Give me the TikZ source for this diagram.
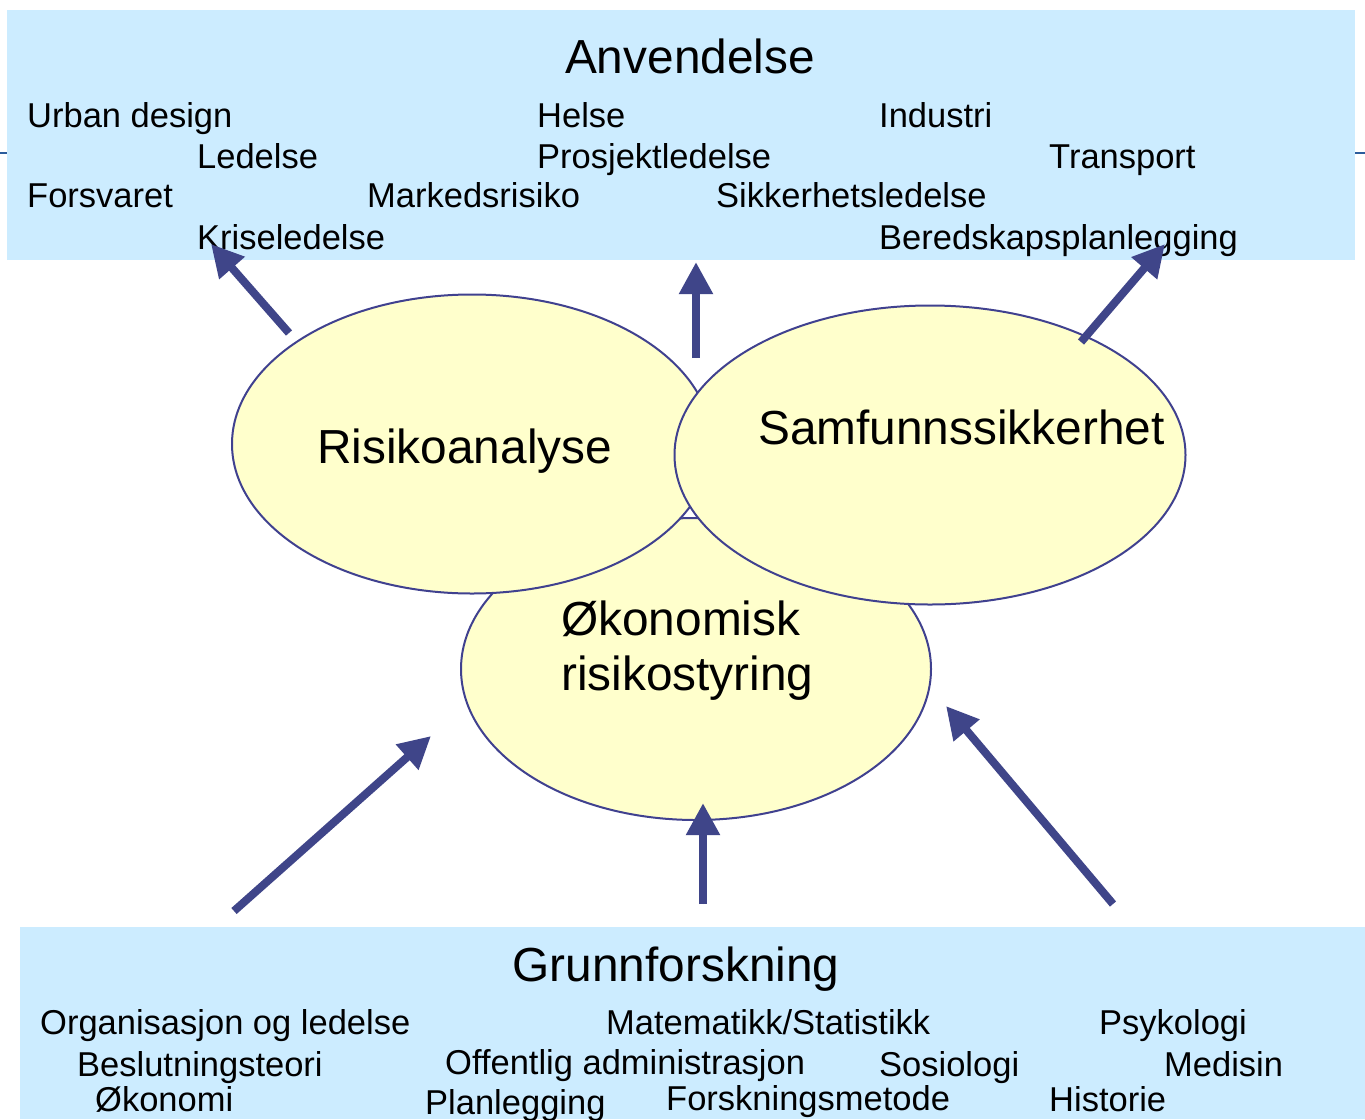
\documentclass[tikz,border=0pt]{standalone}
\usepackage{fontspec}
\setmainfont{Liberation Sans}
\usetikzlibrary{arrows.meta,shapes.geometric}
\definecolor{boxblue}{HTML}{CCECFF}
\definecolor{ellfill}{HTML}{FFFFCC}
\definecolor{ellline}{HTML}{40418F}
\definecolor{arrowblue}{HTML}{3F4589}
\definecolor{rulecol}{HTML}{2B5C9C}
\tikzset{
  sm/.style={anchor=base west, inner sep=0pt, font=\fontsize{34.5}{40}\selectfont},
  bg/.style={anchor=base west, inner sep=0pt, font=\fontsize{47.8}{54}\selectfont},
  ell/.style={ellipse, draw=ellline, fill=ellfill, line width=2pt, inner sep=0pt},
  arr/.style={draw=arrowblue, line width=8pt, -{Triangle[length=32pt,width=32pt]}, fill=arrowblue},
  areabox/.style={fill=boxblue, draw=none, inner sep=0pt, anchor=north west}
}
\begin{document}
\begin{tikzpicture}[x=1pt,y=-1pt]
\useasboundingbox (0,0) rectangle (1365,1119);
\fill[white] (0,0) rectangle (1365,1119);
% thin rule behind the top panel
\draw[rulecol, line width=2.5pt] (0,153) -- (1365,153);
% panels
\node[areabox, minimum width=1348pt, minimum height=250pt] (top) at (7,10) {};
\node[areabox, minimum width=1345pt, minimum height=192pt] (bot) at (20,927) {};
% top texts
\node[bg, anchor=base] (anv) at (690,73) {Anvendelse};
\node[sm] (t1) at (27,127) {Urban design};
\node[sm] (t2) at (537,127) {Helse};
\node[sm] (t3) at (879,127) {Industri};
\node[sm] (t4) at (197,168) {Ledelse};
\node[sm] (t5) at (537,168) {Prosjektledelse};
\node[sm] (t6) at (1049,168) {Transport};
\node[sm] (t7) at (27,207) {Forsvaret};
\node[sm] (t8) at (367,207) {Markedsrisiko};
\node[sm] (t9) at (716,207) {Sikkerhetsledelse};
\node[sm] (t10) at (197,249) {Kriseledelse};
\node[sm] (t11) at (879,249) {Beredskapsplanlegging};
% bottom texts
\node[bg, anchor=base] (grf) at (676,981) {Grunnforskning};
\node[sm] (b1) at (40,1034) {Organisasjon og ledelse};
\node[sm] (b2) at (606,1034) {Matematikk/Statistikk};
\node[sm] (b3) at (1099,1034) {Psykologi};
\node[sm] (b4) at (77,1076) {Beslutningsteori};
\node[sm] (b5) at (445,1074) {Offentlig administrasjon};
\node[sm] (b6) at (879,1076) {Sosiologi};
\node[sm] (b7) at (1164,1076) {Medisin};
\node[sm] (b8) at (95,1111) {Økonomi};
\node[sm] (b9) at (425,1114) {Planlegging};
\node[sm] (b10) at (666,1110) {Forskningsmetode};
\node[sm] (b11) at (1049,1111) {Historie};
% ellipses
\node[ell, minimum width=470pt, minimum height=302pt] (oko) at (696,669) {};
\node[ell, minimum width=480pt, minimum height=299pt] (ris) at (472,444) {};
\node[ell, minimum width=511pt, minimum height=299pt] (sam) at (930,455) {};
\node[bg] (risl) at (317,463) {Risikoanalyse};
\node[bg] (saml) at (758,444) {Samfunnssikkerhet};
\node[bg] (okl1) at (561,635) {Økonomisk};
\node[bg] (okl2) at (561,690) {risikostyring};
% arrow end points
\coordinate (a1s) at (289,333); \coordinate (a1e) at (211,244);
\coordinate (a2s) at (696,358); \coordinate (a2e) at (696,262);
\coordinate (a3s) at (1081,342); \coordinate (a3e) at (1165,244);
\coordinate (a4s) at (234,911); \coordinate (a4e) at (431,736);
\coordinate (a5s) at (703,904); \coordinate (a5e) at (703,803);
\coordinate (a6s) at (1113,904); \coordinate (a6e) at (946,706);
\draw[arr] (a1s) -- (a1e);
\draw[arr] (a2s) -- (a2e);
\draw[arr] (a3s) -- (a3e);
\draw[arr] (a4s) -- (a4e);
\draw[arr] (a5s) -- (a5e);
\draw[arr] (a6s) -- (a6e);
\end{tikzpicture}
\end{document}
